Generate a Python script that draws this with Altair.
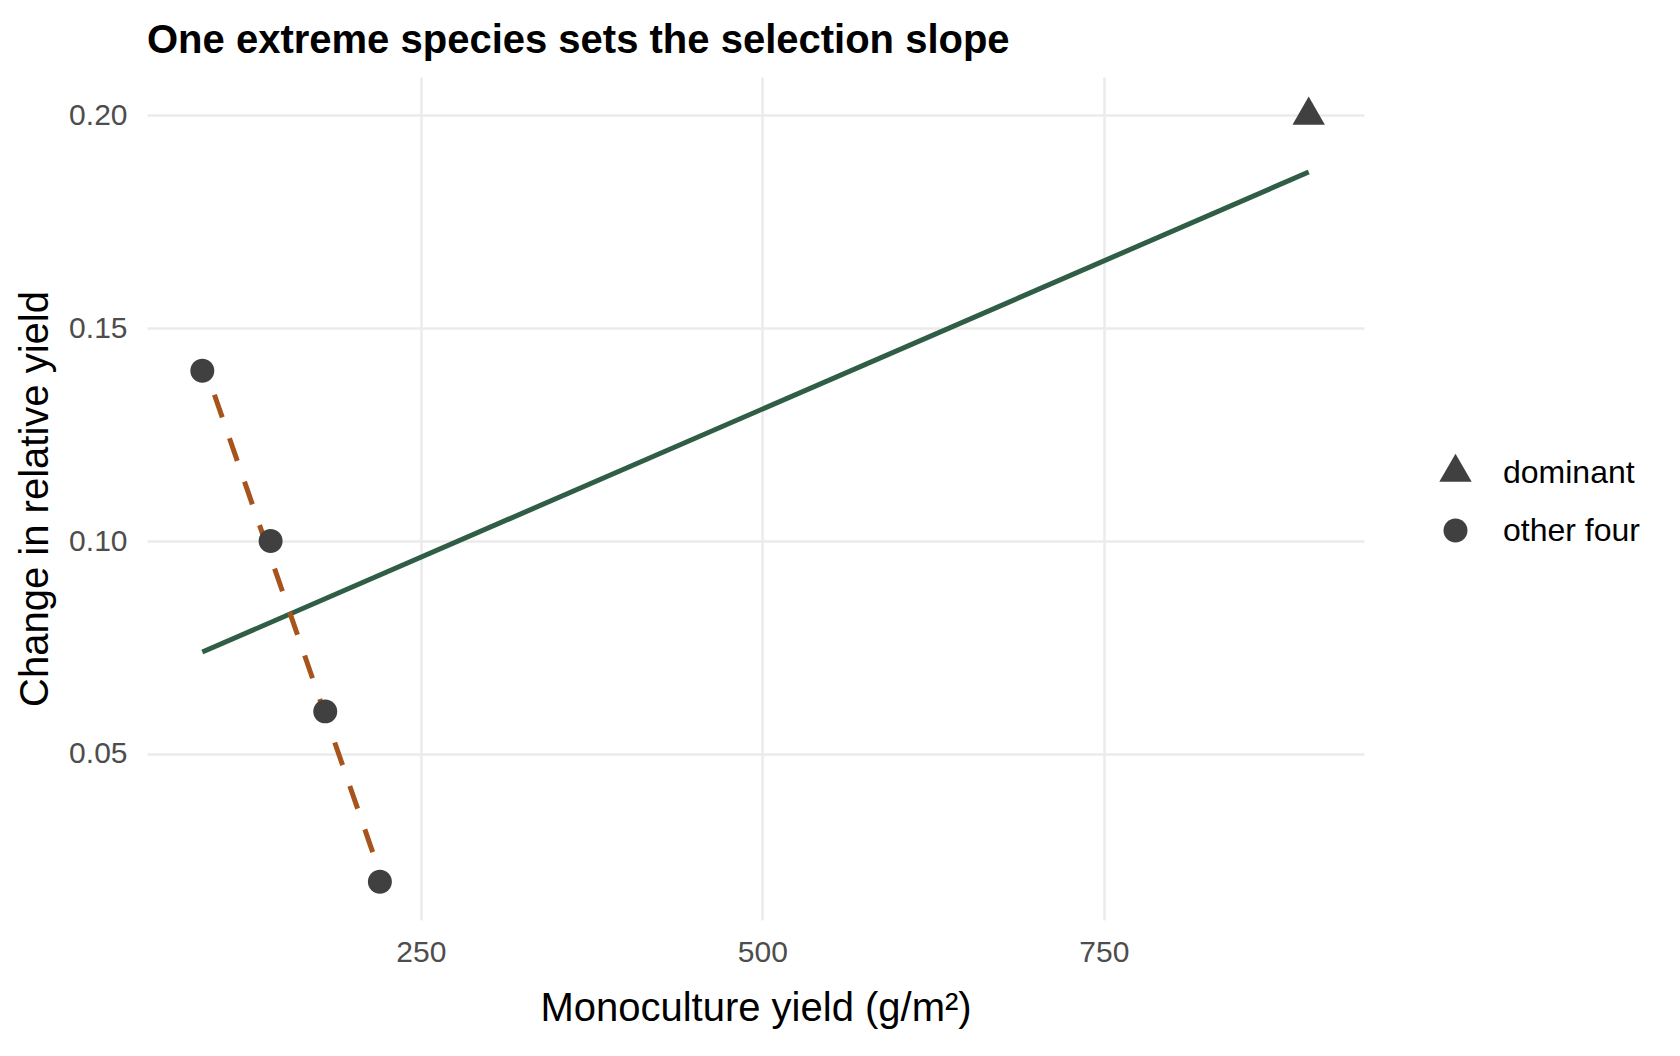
import altair as alt
import pandas as pd

# ---- data ----
mono_yield = [90, 140, 180, 220, 900]
delta_ry = [0.14, 0.10, 0.06, 0.02, 0.20]
group = ["other four", "other four", "other four", "other four", "dominant"]

x_ticks = [250, 500, 750]
y_ticks = [0.05, 0.10, 0.15, 0.20]

df = pd.DataFrame({"yield": mono_yield, "dRY": delta_ry, "group": group})

FONT = "Liberation Sans"
W, H = 1217, 843

x_enc = alt.X(
    "yield:Q",
    scale=alt.Scale(domain=[49.5, 940.5], nice=False, zero=False),
    axis=alt.Axis(
        values=x_ticks, format="d", title="Monoculture yield (g/m²)",
        grid=True, gridColor="#EBEBEB", gridWidth=2.5,
        domain=False, ticks=False, tickSize=0, labelPadding=17,
        labelFont=FONT, labelFontSize=30, labelColor="#4D4D4D",
        titleFont=FONT, titleFontSize=40, titleFontWeight="normal", titleColor="#000000",
        titleX=W / 2, titleY=100, titleBaseline="alphabetic", titleAlign="center",
    ),
)
y_enc = alt.Y(
    "dRY:Q",
    scale=alt.Scale(domain=[0.011, 0.209], nice=False, zero=False),
    axis=alt.Axis(
        values=y_ticks, format=".2f", title="Change in relative yield",
        grid=True, gridColor="#EBEBEB", gridWidth=2.5,
        domain=False, ticks=False, tickSize=0, labelPadding=20,
        labelFont=FONT, labelFontSize=30, labelColor="#4D4D4D",
        titleFont=FONT, titleFontSize=40, titleFontWeight="normal", titleColor="#000000",
        titleAngle=-90, titleX=-100, titleY=H / 2, titleBaseline="alphabetic", titleAlign="center",
    ),
)

base = alt.Chart(df)

green = base.transform_regression("yield", "dRY").mark_line(
    color="#2F5D45", strokeWidth=5, strokeCap="butt"
).encode(x=x_enc, y=y_enc)

brown = base.transform_filter(alt.datum.group == "other four").transform_regression(
    "yield", "dRY"
).mark_line(
    color="#A6541B", strokeWidth=5, strokeCap="butt", strokeDash=[24, 22], strokeDashOffset=9
).encode(x=x_enc, y=y_enc)

tri_path = "M0,-1.1547L1,0.5774L-1,0.5774Z"
circ_path = "M0.74,0A0.74,0.74 0 1,1 -0.74,0A0.74,0.74 0 1,1 0.74,0Z"

points = base.mark_point(filled=True, size=1050, opacity=1, color="#404040").encode(
    x=x_enc,
    y=y_enc,
    shape=alt.Shape(
        "group:N",
        scale=alt.Scale(domain=["dominant", "other four"], range=[tri_path, circ_path]),
        legend=alt.Legend(
            title=None, orient="none", legendX=1292, legendY=379,
            symbolSize=1050, symbolFillColor="#404040", symbolStrokeWidth=0,
            labelFont=FONT, labelFontSize=32, labelColor="#000000",
            labelOffset=31, rowPadding=25, labelBaseline="middle",
        ),
    ),
)

chart = alt.layer(green, brown, points).properties(
    width=W,
    height=H,
    autosize=alt.AutoSizeParams(type="none"),
    padding={"left": 147, "top": 77, "right": 316, "bottom": 136},
    title=alt.TitleParams(
        "One extreme species sets the selection slope",
        anchor="start", frame="group", font=FONT, fontSize=40, fontWeight="bold",
        color="#000000", baseline="alphabetic", offset=26, dy=42,
    ),
).configure(background="#FFFFFF").configure_view(stroke=None)

chart.save("out.html", embed_options={"renderer": "svg", "actions": False})
